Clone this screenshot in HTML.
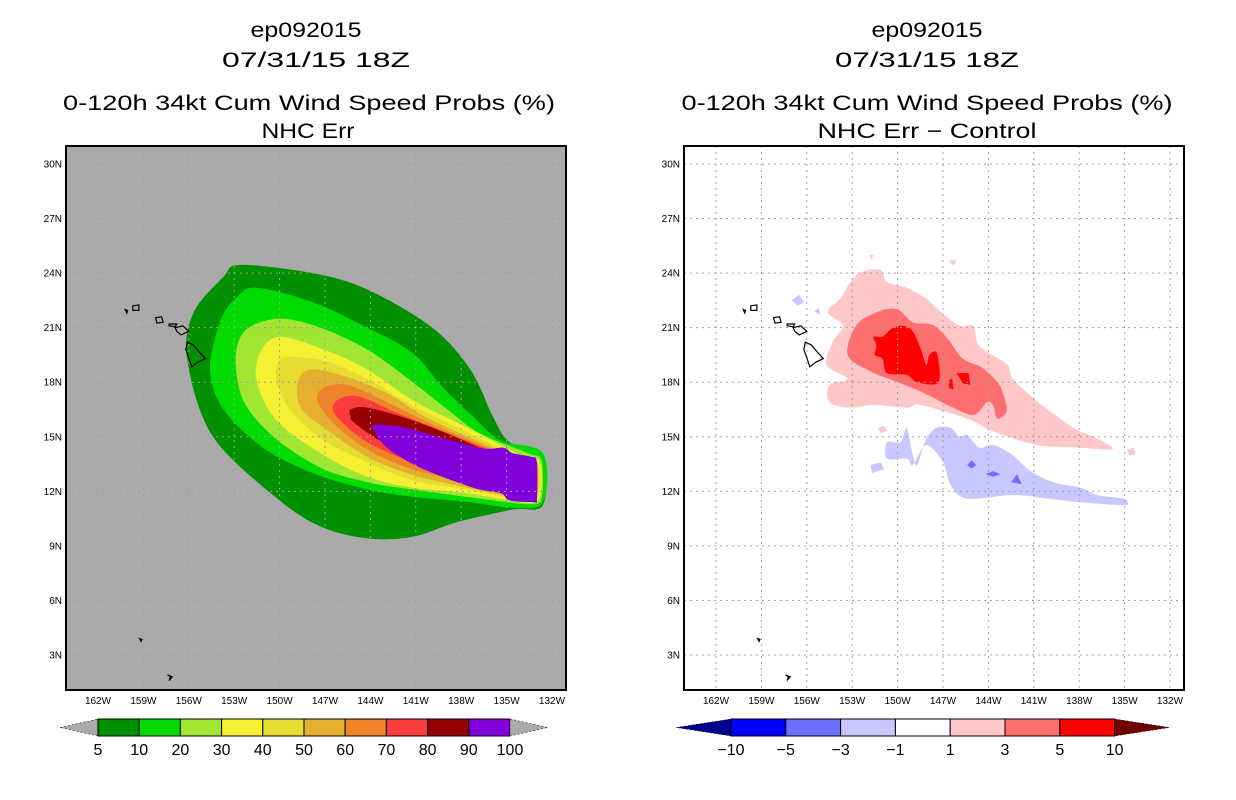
<!DOCTYPE html>
<html><head><meta charset="utf-8"><style>
body{margin:0;background:#fff;}
svg{display:block;font-family:"Liberation Sans",sans-serif;}
</style></head><body>
<svg id="s" width="1236" height="800" viewBox="0 0 1236 800">
<g font-size="21" text-anchor="middle" fill="#000">
<text x="306" y="37" textLength="111" lengthAdjust="spacingAndGlyphs">ep092015</text>
<text x="316" y="67" textLength="188" lengthAdjust="spacingAndGlyphs">07/31/15 18Z</text>
<text x="309" y="110" textLength="492" lengthAdjust="spacingAndGlyphs">0-120h 34kt Cum Wind Speed Probs (%)</text>
<text x="308" y="138" textLength="93" lengthAdjust="spacingAndGlyphs">NHC Err</text>
</g>
<g font-size="21" text-anchor="middle" fill="#000">
<text x="927" y="37" textLength="111" lengthAdjust="spacingAndGlyphs">ep092015</text>
<text x="927" y="67" textLength="184" lengthAdjust="spacingAndGlyphs">07/31/15 18Z</text>
<text x="927" y="110" textLength="491" lengthAdjust="spacingAndGlyphs">0-120h 34kt Cum Wind Speed Probs (%)</text>
<text x="927" y="138" textLength="219" lengthAdjust="spacingAndGlyphs">NHC Err − Control</text>
</g>
</svg>
<script>
const NS="http://www.w3.org/2000/svg";
const svg=document.getElementById('s');
// axis ticks
const lonTicks=[162,159,156,153,150,147,144,141,138,135,132];
const latTicks=[30,27,24,21,18,15,12,9,6,3];
// left panel probability levels
const probLevels=[5,10,20,30,40,50,60,70,80,90,100];
const probColors=['#009000','#00dc00','#a0e632','#f5f032','#e6dc32','#e6af2d','#f08228','#fa3c3c','#960000','#8200dc'];
const probC5=[[152.6,24.45],[147.8,24.0],[144.2,23.1],[139.9,21.0],[137.4,18.7],[135.9,16.1],[134.8,14.7],[132.6,14.0],[132.6,11.25],[134.6,11.0],[138.3,10.3],[141.2,9.5],[144.0,9.4],[147.1,10.0],[150.0,11.5],[154.4,15.0],[156.1,19.2],[155.7,21.8],[153.7,23.8]];
const probC10=[[151.5,23.2],[147.8,22.4],[144.2,21.0],[141.2,19.6],[139.2,17.7],[137.2,16.1],[135.4,14.8],[132.6,14.1],[132.6,11.4],[134.6,11.1],[137.4,11.4],[141.2,11.7],[144.2,12.1],[147.8,13.0],[151.1,14.4],[153.7,16.5],[154.6,18.7],[153.9,21.4],[152.8,22.7]];
const probC20=[[150.0,21.5],[147.3,21.0],[144.2,19.8],[141.2,18.0],[138.9,16.5],[136.8,15.2],[133.6,14.1],[132.7,13.7],[132.7,11.6],[133.6,11.3],[136.8,11.6],[141.2,12.1],[144.2,12.5],[147.3,13.3],[150.4,15.0],[152.4,17.0],[152.9,19.4],[152.2,20.9]];
const probC30=[[150.0,20.5],[147.1,19.8],[144.2,18.7],[141.2,17.0],[137.6,15.5],[133.9,13.9],[132.8,13.6],[132.8,11.7],[133.9,11.4],[137.6,11.9],[141.2,12.2],[144.2,12.8],[147.3,14.1],[150.2,15.9],[151.5,18.0],[151.3,19.6]];
const probC40=[[149.3,19.4],[146.7,19.1],[143.8,18.0],[140.7,16.5],[133.9,13.8],[132.9,13.6],[132.9,11.7],[133.9,11.5],[137.6,12.1],[141.2,12.6],[144.2,13.6],[147.1,14.8],[149.3,16.5],[150.2,18.0],[150.1,19.1]];
const probC50=[[148.0,18.7],[146.0,18.4],[142.9,17.4],[139.9,15.9],[133.9,13.7],[133.0,13.5],[133.0,11.8],[133.9,11.6],[137.6,12.2],[141.2,12.9],[144.2,13.9],[146.9,15.4],[148.6,16.6],[148.8,18.0]];
const probC60=[[147.1,17.7],[145.5,17.85],[142.9,16.9],[139.4,15.5],[133.9,13.6],[133.1,13.3],[133.1,11.9],[133.9,11.7],[137.6,12.5],[141.2,13.2],[144.2,14.3],[146.5,15.8],[147.5,17.0]];
const probC70=[[146.0,17.1],[144.7,17.2],[142.2,16.3],[138.9,15.2],[134.1,13.6],[133.2,13.3],[133.2,12.0],[134.1,11.8],[137.6,12.6],[141.2,13.6],[144.2,14.7],[146.0,15.9],[146.5,16.6]];
const probC80=[[145.3,16.5],[144.2,16.6],[141.2,15.9],[137.6,14.7],[134.1,13.3],[133.3,13.2],[133.3,12.1],[134.3,11.9],[137.4,12.8],[140.7,13.7],[143.4,14.8],[145.1,15.8],[145.3,16.1]];
const probC90=[[143.8,15.65],[142.9,15.65],[141.2,15.4],[136.8,14.4],[135.2,14.4],[134.6,14.1],[133.4,13.9],[133.0,13.6],[133.0,11.5],[133.2,11.4],[134.8,11.5],[135.4,11.9],[137.2,12.2],[140.7,13.3],[142.9,14.4],[143.8,15.4]];
// right panel difference levels
const diffLevels=[-10,-5,-3,-1,1,3,5,10];
const diffColors=['#00008c','#0000ff','#6e6eff','#c8c8ff','#ffffff','#ffc8c8','#ff6e6e','#ff0000','#6e0000'];
const diffPos1=[[154.5,22.1],[153.8,22.6],[152.7,23.9],[151.2,24.2],[150.7,23.5],[149.4,23.2],[148.1,22.6],[147.2,21.9],[145.9,21.1],[145.0,21.1],[144.6,20.0],[142.8,19.0],[142.4,18.2],[141.0,17.1],[139.9,16.4],[138.4,15.5],[136.8,14.9],[135.8,14.4],[136.2,14.3],[137.9,14.4],[140.8,14.55],[143.7,15.3],[145.4,16.0],[148.5,16.75],[149.4,16.6],[151.6,16.75],[153.1,16.6],[154.5,16.9],[154.5,17.85],[153.3,18.2],[154.7,18.95],[154.3,20.2],[153.6,21.1],[154.5,21.7]];
const diffPos3=[[153.3,19.5],[152.7,21.15],[151.2,21.9],[150.0,22.0],[149.0,21.3],[147.7,21.15],[146.7,20.4],[145.7,19.3],[144.4,18.8],[143.4,18.0],[143.0,17.3],[142.8,16.4],[143.4,16.0],[143.7,16.75],[144.1,16.9],[145.0,16.2],[146.7,16.75],[148.5,17.5],[150.0,18.0],[151.8,18.6]];
const diffPos5=[[151.6,20.5],[151.0,20.5],[150.3,21.0],[149.6,21.1],[149.0,20.8],[148.5,19.9],[148.1,18.95],[147.9,19.5],[147.4,19.6],[147.3,18.0],[148.7,18.0],[149.4,18.4],[150.7,18.5],[151.0,19.3],[151.5,19.5],[151.4,20.05]];
const diffPos5b=[[146.1,18.5],[145.3,18.5],[145.2,17.85],[145.7,17.95]];
const diffPos5c=[[146.6,18.1],[146.4,18.2],[146.3,17.6],[146.6,17.7]];
const diffNeg1=[[150.7,14.7],[149.8,14.7],[149.4,15.5],[149.0,14.0],[148.7,13.45],[148.1,14.9],[147.4,15.5],[146.5,15.5],[145.9,15.0],[145.4,15.1],[144.6,14.4],[143.7,14.55],[142.4,14.0],[141.2,13.1],[139.7,12.5],[137.9,12.2],[136.8,11.8],[135.1,11.6],[134.8,11.4],[135.1,11.25],[137.9,11.4],[140.1,11.6],[142.4,11.8],[145.4,11.6],[146.5,12.35],[147.0,13.6],[148.1,14.55],[149.0,13.45],[149.4,13.8],[150.7,13.8]];
const diffNeg1b=[[151.8,13.45],[151.1,13.6],[150.9,13.2],[151.7,13.0]];
const diffNeg1c=[[157.0,22.5],[156.5,22.8],[156.2,22.4],[156.6,22.2]];
const diffNeg1d=[[155.5,21.9],[155.2,22.1],[155.1,21.7]];
const diffNeg3=[[145.4,13.45],[145.1,13.7],[144.8,13.45],[145.1,13.25]];
const diffNeg3b=[[144.2,12.95],[143.7,13.1],[143.2,12.95],[143.7,12.8]];
const diffNeg3c=[[142.5,12.5],[142.1,12.95],[141.8,12.4]];
const diffPosSmall1=[[151.9,25.0],[151.6,25.0],[151.7,24.7]];
const diffPosSmall2=[[146.6,24.7],[146.1,24.7],[146.3,24.4]];
const diffPosSmall3=[[151.3,15.5],[150.9,15.6],[150.7,15.3],[151.1,15.2]];
const diffPosSmall4=[[134.8,14.3],[134.4,14.4],[134.3,14.0],[134.7,14.0]];
// geography (islands)
const islands=[
[[156.1,20.2],[155.7,20.05],[155.3,19.65],[154.9,19.3],[155.4,19.1],[155.8,18.85],[156.0,19.35],[156.2,19.8]],
[[156.9,21.0],[156.4,21.1],[156.0,20.8],[156.5,20.6],[156.8,20.8]],
[[157.3,21.2],[156.8,21.2],[156.9,21.05],[157.3,21.1]],
[[158.2,21.55],[157.8,21.6],[157.7,21.3],[158.1,21.25]],
[[159.7,22.2],[159.3,22.25],[159.3,21.95],[159.7,21.95]],
[[160.2,22.0],[160.05,21.95],[160.1,21.8]],
[[159.25,3.9],[159.1,3.85],[159.15,3.75]],
[[157.4,1.9],[157.1,1.8],[157.3,1.6],[157.2,1.8]]
];
const panels=[{x0:66,off:0,name:'left'},{x0:684,off:618,name:'right'}];
function xS(p,lon){return p.off+98+(162-lon)*15.133;}
function yS(lat){return 164+(30-lat)*18.185;}
function el(tag,attrs,parent){const e=document.createElementNS(NS,tag);for(const k in attrs)e.setAttribute(k,attrs[k]);(parent||svg).appendChild(e);return e;}
function smoothPath(pts){
  const n=pts.length;let d='M'+pts[0][0].toFixed(1)+','+pts[0][1].toFixed(1);
  const t=0.16;
  for(let i=0;i<n;i++){
    const p0=pts[(i-1+n)%n],p1=pts[i],p2=pts[(i+1)%n],p3=pts[(i+2)%n];
    const c1=[p1[0]+(p2[0]-p0[0])*t,p1[1]+(p2[1]-p0[1])*t];
    const c2=[p2[0]-(p3[0]-p1[0])*t,p2[1]-(p3[1]-p1[1])*t];
    d+=' C'+c1.map(v=>v.toFixed(1)).join(',')+' '+c2.map(v=>v.toFixed(1)).join(',')+' '+p2.map(v=>v.toFixed(1)).join(',');
  }
  return d+'Z';
}
function poly(p,pts,fill,stroke,parent,smooth){
  const sp=pts.map(q=>[xS(p,q[0]),yS(q[1])]);
  if(smooth) return el('path',{d:smoothPath(sp),fill:fill},parent);
  const d=sp.map(q=>q[0].toFixed(1)+','+q[1].toFixed(1)).join(' ');
  return el('polygon',{points:d,fill:fill,stroke:stroke||'none','stroke-width':stroke?1.2:0},parent);
}
panels.forEach((p,pi)=>{
  const g=el('g',{});
  
  
  const cp=el('clipPath',{id:'cp'+pi},g);
  el('rect',{x:p.x0,y:146,width:500,height:544},cp);
  const bg=el('rect',{x:p.x0,y:146,width:500,height:544,fill:pi==0?'#aaaaaa':'#ffffff'},g);
  
  
  const inner=el('g',{'clip-path':'url(#cp'+pi+')'},g);
  if(pi==0){
    const levels=[probC5,probC10,probC20,probC30,probC40,probC50,probC60,probC70,probC80,probC90];
    levels.forEach((c,i)=>{
      const s=poly(p,c,probColors[i],null,inner,true);
      
      
    });
  } else {
    const shapes=[[diffPos1,5],[diffPosSmall1,5],[diffPosSmall2,5],[diffPosSmall3,5],[diffPosSmall4,5],[diffPos3,6],[diffPos5,7],[diffPos5b,7],[diffPos5c,7],[diffNeg1,3],[diffNeg1b,3],[diffNeg1c,3],[diffNeg1d,3],[diffNeg3,2],[diffNeg3b,2],[diffNeg3c,2]];
    shapes.forEach((s,i)=>{
      const e=poly(p,s[0],diffColors[s[1]],null,inner,s[0].length>6);
      
      
    });
  }
  lonTicks.forEach(l=>{
    const ln=el('line',{x1:xS(p,l),x2:xS(p,l),y1:146,y2:690,stroke:'#a0a0a0','stroke-dasharray':'2,4','stroke-width':1},inner);
    
    
    const t=el('text',{x:xS(p,l),y:704,'font-size':10,'text-anchor':'middle',fill:'#000'},g);
    t.textContent=l+'W';
    
    
  });
  latTicks.forEach(l=>{
    const ln=el('line',{x1:p.x0,x2:p.x0+500,y1:yS(l),y2:yS(l),stroke:'#a0a0a0','stroke-dasharray':'2,4','stroke-width':1},inner);
    
    
    const t=el('text',{x:p.x0-4,y:yS(l)+3.5,'font-size':10,'text-anchor':'end',fill:'#000'},g);
    t.textContent=l+'N';
    
    
  });
  islands.forEach(isl=>{
    const e=poly(p,isl,'none','#000',inner,false);
    
    
  });
  const fr=el('rect',{x:p.x0,y:146,width:500,height:544,fill:'none',stroke:'#000','stroke-width':2},g);
  
  
});
function colorbar(x0,x1,boxW,colors,labels,endL,endR,name){
  const g=el('g',{});
  
  
  const y0=719,y1=736,ym=727.5;
  el('polygon',{points:`${x0},${ym} ${x1},${y0} ${x1},${y1}`,fill:endL,stroke:'#000','stroke-width':0.5,'stroke-dasharray':'2,2'},g);
  const n=colors.length;
  colors.forEach((c,i)=>{
    const r=el('rect',{x:x1+i*boxW,y:y0,width:boxW,height:y1-y0,fill:c,stroke:'#000','stroke-width':1},g);
    
    
  });
  const xe=x1+n*boxW;
  el('polygon',{points:`${xe},${y0} ${xe+(x1-x0)},${ym} ${xe},${y1}`,fill:endR,stroke:'#000','stroke-width':0.5,'stroke-dasharray':'2,2'},g);
  labels.forEach((l,i)=>{
    const t=el('text',{x:x1+i*boxW,y:755,'font-size':16,'text-anchor':'middle',fill:'#000'},g);
    t.textContent=l<0?'−'+(-l):String(l);
    
    
  });
}
colorbar(60,98,41.2,probColors,probLevels,'#aaaaaa','#aaaaaa','prob-colorbar');
colorbar(676,731,54.8,diffColors.slice(1,8),diffLevels,diffColors[0],diffColors[8],'diff-colorbar');
</script>
</body></html>
